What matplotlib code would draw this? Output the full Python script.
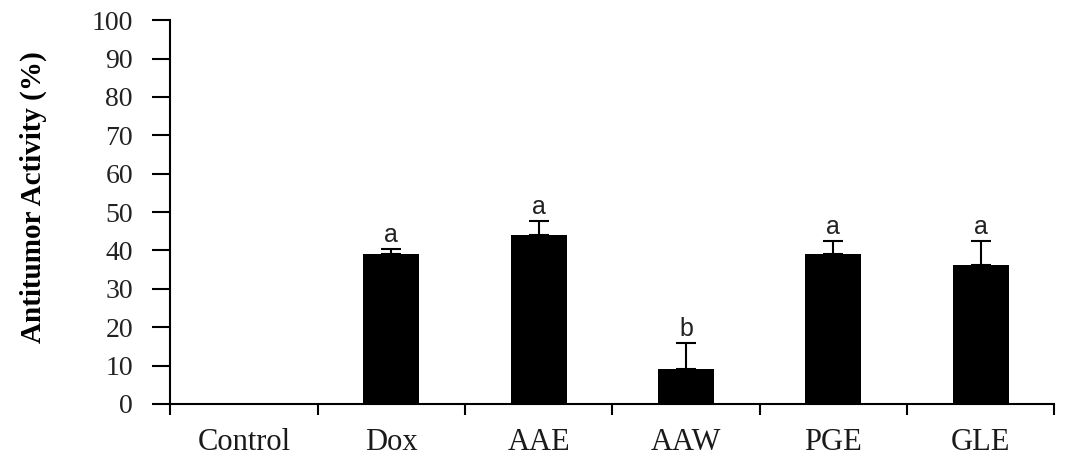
import numpy as np
import matplotlib
matplotlib.use('Agg')
from matplotlib import pyplot as plt

groups = ['Control', 'Dox', 'AAE', 'AAW', 'PGE', 'GLE']
activity = [0, 39.2, 44.1, 9.2, 39.1, 36.3]
err_up = [0, 1.2, 3.5, 6.7, 3.3, 6.1]
letters = ['', 'a', 'a', 'b', 'a', 'a']

fig = plt.figure(figsize=(10.65, 4.59), dpi=100)
ax = fig.add_axes([0.16, 0.12, 0.83, 0.836])

x = np.arange(len(groups))
lower = [0] * len(groups)
ax.bar(x, activity, width=0.38, color='black', zorder=2)
ax.errorbar(x[1:], activity[1:], yerr=[lower[1:], err_up[1:]], fmt='none',
            ecolor='black', elinewidth=1.5, capsize=7, capthick=1.5, zorder=1)

for i in range(len(groups)):
  if letters[i]:
    ax.text(x[i], activity[i] + err_up[i] + 0.6, letters[i], ha='center', va='bottom',
            fontsize=18, family='Liberation Sans', color='#222222')

ax.set_xlim(-0.5, len(groups) - 0.5)
ax.set_ylim(0, 100)
ax.set_yticks(range(0, 101, 10))
ax.set_xticks(np.arange(-0.5, len(groups), 1.0))
ax.set_xticklabels([])
ax.set_xticks(x, minor=True)
ax.set_xticklabels(groups, minor=True, fontsize=22, family='Liberation Serif',
                   color='#1a1a1a')
ax.tick_params(axis='x', which='minor', length=0, pad=17)
ax.tick_params(axis='x', which='major', length=8, width=1.5, direction='out')
ax.tick_params(axis='y', length=13, width=1.5, direction='out', pad=14)
for lab in ax.get_yticklabels():
  lab.set_fontfamily('Liberation Serif')
  lab.set_fontsize(20)
  lab.set_color('#222222')

for s in ['top', 'right']:
  ax.spines[s].set_visible(False)
ax.spines['left'].set_linewidth(1.5)
ax.spines['bottom'].set_linewidth(1.5)

ax.set_ylabel('Antitumor Activity (%)', fontsize=21, fontweight='bold',
              family='Liberation Serif')
ax.yaxis.set_label_coords(-0.14, 0.54)

fig.savefig('out.png', dpi=100)
